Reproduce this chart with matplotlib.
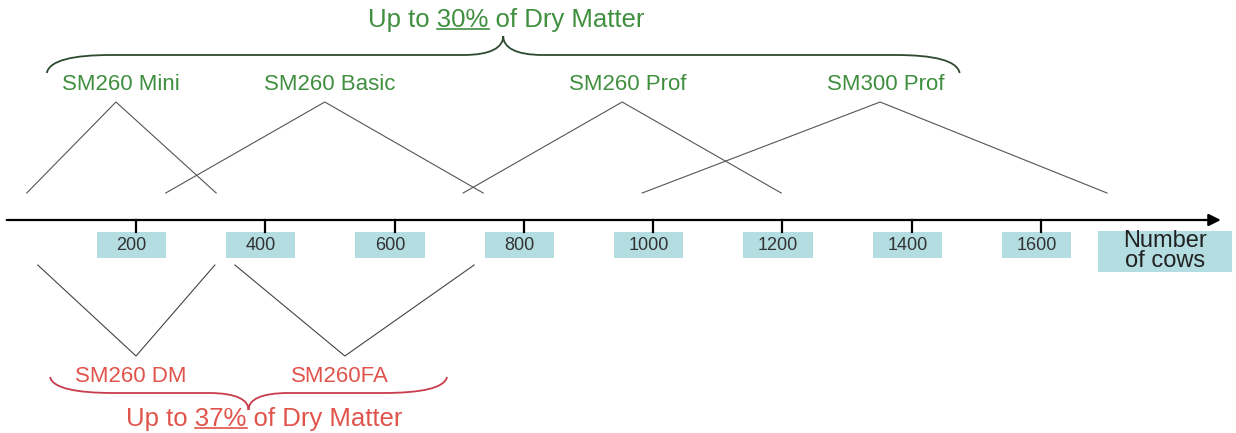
import matplotlib
matplotlib.use("Agg")
import matplotlib.pyplot as plt
from matplotlib.patches import Rectangle, PathPatch
from matplotlib.path import Path

plt.rcParams['font.family'] = ['Liberation Sans', 'DejaVu Sans']

# ranges of cows per mixer (start, best, end)
top_names = ["SM260 Mini", "SM260 Basic", "SM260 Prof", "SM300 Prof"]
top_low = [31, 246, 706, 983]
top_peak = [169, 492, 952, 1351]
top_high = [324, 737, 1198, 1702]

bot_names = ["SM260 DM", "SM260FA"]
bot_low = [48, 353]
bot_peak = [200, 523]
bot_high = [322, 723]

ticks = [200, 400, 600, 800, 1000, 1200, 1400, 1600]
top_group = (62, 1474)
top_title = ("Up to ", "30%", " of Dry Matter")
bot_group = (67, 681)
bot_title = ("Up to ", "37%", " of Dry Matter")

green = '#3f8f3f'
red = '#e0544c'
boxc = '#b3dde1'

fig = plt.figure(figsize=(12.36, 4.33), dpi=100)
ax = fig.add_axes([0, 0, 1, 1])
ax.set_xlim(-10.4, 1901.5)
ax.set_ylim(433, 0)
ax.axis('off')

# axis with arrow
ax.annotate('', xy=(1878, 220), xytext=(0, 220),
            arrowprops=dict(arrowstyle='-|>', color='black', lw=1.6,
                            mutation_scale=18, shrinkA=0, shrinkB=0))
for t in ticks:
    ax.plot([t, t], [220, 232], color='black', lw=1.6)
    ax.add_patch(Rectangle((t - 7 - 53.5, 232), 107, 26, color=boxc, lw=0))
    ax.text(t - 7, 245.5, str(t), ha='center', va='center', fontsize=13,
            color='#333333')
ax.add_patch(Rectangle((1688, 231), 207, 41, color=boxc, lw=0))
ax.text(1791, 251, "Number\nof cows", ha='center', va='center', fontsize=17,
        color='#222222', linespacing=0.92)

# triangles above the axis
for name, lo, pk, hi in zip(top_names, top_low, top_peak, top_high):
    ax.plot([lo, pk, hi], [193, 102, 193], color='#555555', lw=0.8)
    ax.text(pk + 8, 84, name, ha='center', va='center', fontsize=16,
            color=green)

# V shapes below the axis
for name, lo, pk, hi in zip(bot_names, bot_low, bot_peak, bot_high):
    ax.plot([lo, pk, hi], [265, 356, 265], color='#444444', lw=0.8)
    ax.text(pk - 8, 377, name, ha='center', va='center', fontsize=16,
            color=red)


def brace(x0, x1, y_end, y_line, y_tip, color, d=100, k=62):
    xm = (x0 + x1) / 2
    verts = [(x0, y_end), (x0 + 4, y_line + (y_end - y_line) * 0.3),
             (x0 + d * 0.4, y_line), (x0 + d, y_line),
             (xm - k, y_line),
             (xm - k * 0.3, y_line), (xm, y_line + (y_tip - y_line) * 0.4), (xm, y_tip),
             (xm, y_line + (y_tip - y_line) * 0.4), (xm + k * 0.3, y_line), (xm + k, y_line),
             (x1 - d, y_line),
             (x1 - d * 0.4, y_line), (x1 - 4, y_line + (y_end - y_line) * 0.3), (x1, y_end)]
    codes = [Path.MOVETO, Path.CURVE4, Path.CURVE4, Path.CURVE4, Path.LINETO,
             Path.CURVE4, Path.CURVE4, Path.CURVE4,
             Path.CURVE4, Path.CURVE4, Path.CURVE4, Path.LINETO,
             Path.CURVE4, Path.CURVE4, Path.CURVE4]
    ax.add_patch(PathPatch(Path(verts, codes), fill=False, edgecolor=color, lw=1.3))
    return xm


def title(xc, y, parts, color, size):
    full = ''.join(parts)
    txt = ax.text(xc, y, full, ha='center', va='center', fontsize=size, color=color)
    fig.canvas.draw()
    r = fig.canvas.get_renderer()
    bb = txt.get_window_extent(r)

    def width(s):
        t = ax.text(0, 0, s, fontsize=size)
        w = t.get_window_extent(r).width
        t.remove()
        return w
    w_pre = width(parts[0] + parts[1]) - width(parts[1])
    w_mid = width(parts[1])
    inv = ax.transData.inverted()
    ya = bb.y0 + bb.height * 0.12
    (xa, yd), = inv.transform([(bb.x0 + w_pre, ya)])
    (xb, _), = inv.transform([(bb.x0 + w_pre + w_mid, ya)])
    ax.plot([xa, xb], [yd, yd], color=color, lw=1.2)


xm = brace(top_group[0], top_group[1], 73, 55, 36, '#2f4a2f')
title(xm + 5, 20, top_title, green, 18.5)
xm = brace(bot_group[0], bot_group[1], 377, 393, 410, '#c83c4c')
title(xm + 25, 419, bot_title, red, 18.5)

fig.savefig('out.png', dpi=100)
